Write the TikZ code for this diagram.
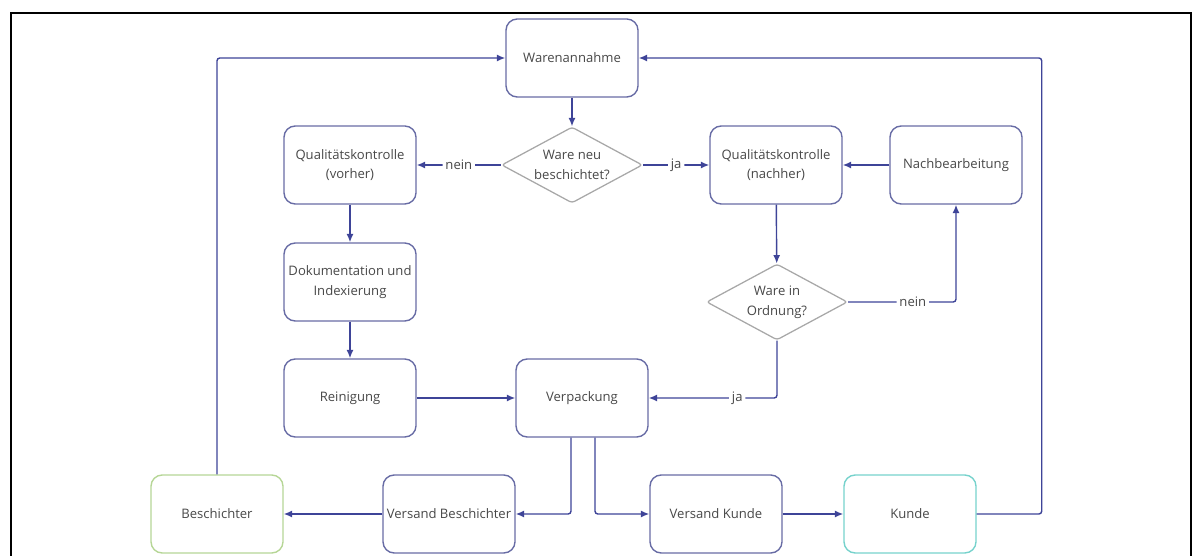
\documentclass[tikz,border=0pt]{standalone}
\usepackage{fontspec}
\setmainfont{Open Sans}
\usepackage{tikz}
\usetikzlibrary{shapes.geometric, calc, arrows.meta}
\tikzset{>={Latex[length=6pt,width=5pt]}}
\definecolor{boxc}{RGB}{104,108,165}
\definecolor{linec}{RGB}{62,68,152}
\definecolor{diamc}{RGB}{168,168,168}
\definecolor{greenc}{RGB}{182,214,150}
\definecolor{tealc}{RGB}{118,210,204}
\definecolor{textc}{RGB}{72,72,72}
\tikzstyle{stepbox} = [draw=boxc, line width=1pt, rounded corners=8pt, minimum width=3.3cm, minimum height=1.95cm, inner sep=2pt, align=center, text=textc, font=\fontsize{9.3}{14}\selectfont]
\tikzstyle{query} = [diamond, aspect=1.85, draw=diamc, line width=0.9pt, rounded corners=2pt, minimum width=3.52cm, minimum height=1.9cm, inner sep=0pt, align=center, text=textc, font=\fontsize{9.3}{14}\selectfont]
\tikzstyle{conn} = [->, draw=linec, line width=1pt, rounded corners=2pt]
\tikzstyle{answer} = [fill=white, text=textc, inner sep=2pt, font=\fontsize{9.3}{11}\selectfont]

\begin{document}
\begin{tikzpicture}[x=0.025cm, y=-0.025cm]
		\useasboundingbox (0,0) rectangle (1198,556);
		
		% Frame
		\draw[black, line width=0.9pt] (11,556) -- (11,13) -- (1191,13) -- (1191,556);
		
		% Nodes
		\node[stepbox] (waren) at (572,58) {Warenannahme};
		\node[query] (neu) at (572,165) {Ware neu\\beschichtet?};
		\node[stepbox] (qkvor) at (350,165) {Qualitätskontrolle\\(vorher)};
		\node[stepbox] (qknach) at (776,165) {Qualitätskontrolle\\(nachher)};
		\node[stepbox] (nachb) at (956,165) {Nachbearbeitung};
		\node[stepbox] (doku) at (350,282) {Dokumentation und\\Indexierung};
		\node[query] (ordnung) at (777,302) {Ware in\\Ordnung?};
		\node[stepbox] (rein) at (350,398) {Reinigung};
		\node[stepbox] (verp) at (582,398) {Verpackung};
		\node[stepbox, draw=greenc] (besch) at (217,514) {Beschichter};
		\node[stepbox] (vbesch) at (449,514) {Versand Beschichter};
		\node[stepbox] (vkunde) at (716,514) {Versand Kunde};
		\node[stepbox, draw=tealc] (kunde) at (910,514) {Kunde};
		
		% Arrows
		\draw[conn] (waren) -- (neu);
		\draw[conn] (neu) -- (qkvor) node[answer, midway] {nein};
		\draw[conn] (neu) -- (qknach) node[answer, midway] {ja};
		\draw[conn] (nachb) -- (qknach);
		\draw[conn] (qknach) -- (ordnung);
		\draw[conn] (ordnung.east) -| (nachb.south) node[answer, pos=0.3] {nein};
		\draw[conn] (ordnung.south) |- (verp.east) node[answer, pos=0.655] {ja};
		\draw[conn] (qkvor) -- (doku);
		\draw[conn] (doku) -- (rein);
		\draw[conn] (rein) -- (verp);
		\draw[conn] ($(verp.south)+(-11,0)$) |- (vbesch.east);
		\draw[conn] ($(verp.south)+(13,0)$) |- (vkunde.west);
		\draw[conn] (vbesch) -- (besch);
		\draw[conn] (vkunde) -- (kunde);
		\draw[conn] (kunde.east) -- ++(65,0) |- (waren.east);
		\draw[conn] (besch.north) |- (waren.west);
	\end{tikzpicture}
\end{document}
